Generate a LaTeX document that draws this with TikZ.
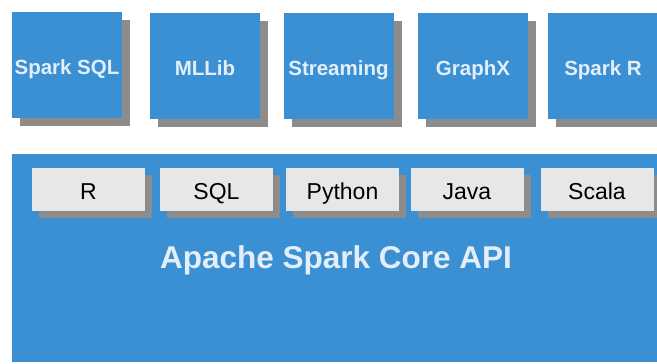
\documentclass[tikz,border=0pt]{standalone}
\usepackage{fontspec}
\setmainfont{Liberation Sans}
\usetikzlibrary{shadows}
\definecolor{sparkblue}{RGB}{59,144,212}
\definecolor{shadowgray}{RGB}{140,140,140}
\definecolor{langgray}{RGB}{231,231,231}
\definecolor{paleblue}{RGB}{226,238,250}

\begin{document}
\begin{tikzpicture}[x=1pt, y=-1pt,
    module/.style={fill=sparkblue, minimum width=110pt, minimum height=106pt, inner sep=0pt,
        text=paleblue, font=\fontsize{20.5}{24}\selectfont\bfseries,
        text height=19.7pt, text depth=0pt,
        drop shadow={shadow xshift=8pt, shadow yshift=-8pt, fill=shadowgray, opacity=1}},
    lang/.style={fill=langgray, minimum width=113pt, minimum height=43pt, inner sep=0pt,
        text=black, font=\fontsize{23}{26}\selectfont,
        text height=19.5pt, text depth=0pt,
        drop shadow={shadow xshift=7pt, shadow yshift=-7pt, fill=shadowgray, opacity=1}}]
\useasboundingbox (0,0) rectangle (657,364);
% libraries on top of the core
\node[module] (sql)       at (67,64.5)  {Spark SQL};
\node[module] (mllib)     at (205,65.5) {MLLib};
\node[module] (streaming) at (338.5,65.5) {Streaming};
\node[module] (graphx)    at (473,66)   {GraphX};
\node[module] (sparkr)    at (603,65.5) {Spark R};
% core block
\node[fill=sparkblue, minimum width=650pt, minimum height=208pt, inner sep=0pt] (core) at (337,258) {};
\node[text=paleblue, font=\fontsize{31.5}{34}\selectfont\bfseries, anchor=base, inner sep=0pt] (coreapi) at (336,268) {Apache Spark Core API};
% language bindings
\node[lang] (r)      at (88.5,189.5)  {R};
\node[lang] (sqllang) at (216.5,189.5) {SQL};
\node[lang] (python) at (342.5,189.5) {Python};
\node[lang] (java)   at (467,189.5)   {Java};
\node[lang] (scala)  at (597,189.5)   {Scala};
\end{tikzpicture}
\end{document}
